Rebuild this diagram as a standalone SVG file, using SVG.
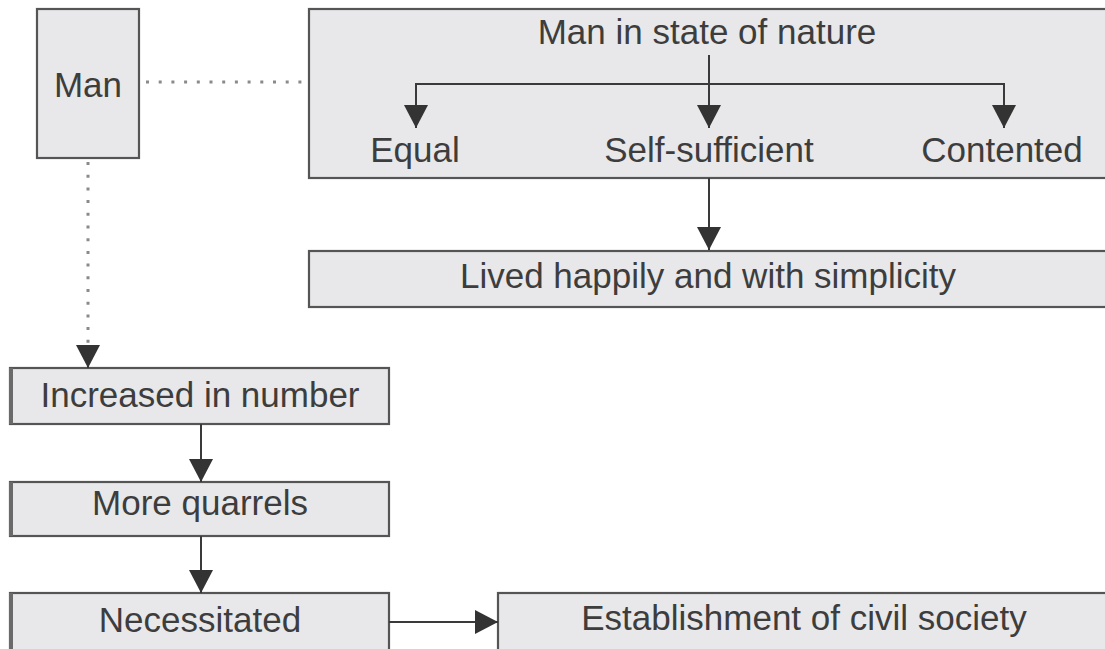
<svg xmlns="http://www.w3.org/2000/svg" width="1105" height="649" viewBox="0 0 1105 649">
<style>
.box{fill:#e8e8ea;stroke:#555;stroke-width:2.2}
.t{font-family:"Liberation Sans",Arial,sans-serif;font-size:35px;fill:#3d3d3d;text-anchor:middle}
.ln{stroke:#3a3a3a;stroke-width:2;fill:none}
.dot{stroke:#8a8a8a;stroke-width:3;stroke-dasharray:3 9.7;fill:none}
.edge{fill:#6a6a6a}
</style>
<defs>
<marker id="ah" viewBox="0 0 23 24" refX="23" refY="12" markerWidth="23" markerHeight="24" markerUnits="userSpaceOnUse" orient="auto-start-reverse">
<path d="M0 0 L23 12 L0 24 Z" fill="#333"/>
</marker>
</defs>
<rect width="1105" height="649" fill="#fff"/>
<g id="man">
<rect class="box" x="37" y="9" width="102" height="149"/>
<text class="t" x="88" y="97">Man</text>
</g>
<g id="nature">
<rect class="box" x="309" y="9" width="810" height="169"/>
<text class="t" x="707" y="44">Man in state of nature</text>
<text class="t" x="415" y="162">Equal</text>
<text class="t" x="709" y="162">Self-sufficient</text>
<text class="t" x="1002" y="162">Contented</text>
</g>
<g id="lived">
<rect class="box" x="309" y="251" width="810" height="56"/>
<text class="t" x="708" y="288">Lived happily and with simplicity</text>
</g>
<g id="increased">
<rect class="box" x="10" y="368" width="379" height="56"/>
<rect class="edge" x="9" y="368" width="4" height="56"/>
<text class="t" x="200" y="407">Increased in number</text>
</g>
<g id="quarrels">
<rect class="box" x="10" y="482" width="379" height="54"/>
<rect class="edge" x="9" y="482" width="4" height="54"/>
<text class="t" x="200" y="515">More quarrels</text>
</g>
<g id="necessitated">
<rect class="box" x="10" y="593" width="379" height="70"/>
<rect class="edge" x="9" y="593" width="4" height="60"/>
<text class="t" x="200" y="632">Necessitated</text>
</g>
<g id="civil">
<rect class="box" x="498" y="593" width="620" height="70"/>
<text class="t" x="804" y="630">Establishment of civil society</text>
</g>
<g id="connectors">
<line class="dot" x1="146" y1="82" x2="306" y2="82"/>
<line class="dot" x1="88" y1="162" x2="88" y2="346"/>
<path d="M88 345 L88 368" class="ln" stroke-width="0" marker-end="url(#ah)"/>
<line class="ln" x1="709" y1="55" x2="709" y2="128" marker-end="url(#ah)"/>
<path class="ln" d="M416 128 L416 84 L1004 84 L1004 128" marker-start="url(#ah)" marker-end="url(#ah)"/>
<line class="ln" x1="709" y1="178" x2="709" y2="250" marker-end="url(#ah)"/>
<line class="ln" x1="201" y1="424" x2="201" y2="482" marker-end="url(#ah)"/>
<line class="ln" x1="201" y1="536" x2="201" y2="593" marker-end="url(#ah)"/>
<line class="ln" x1="389" y1="622" x2="498" y2="622" marker-end="url(#ah)"/>
</g>
</svg>
